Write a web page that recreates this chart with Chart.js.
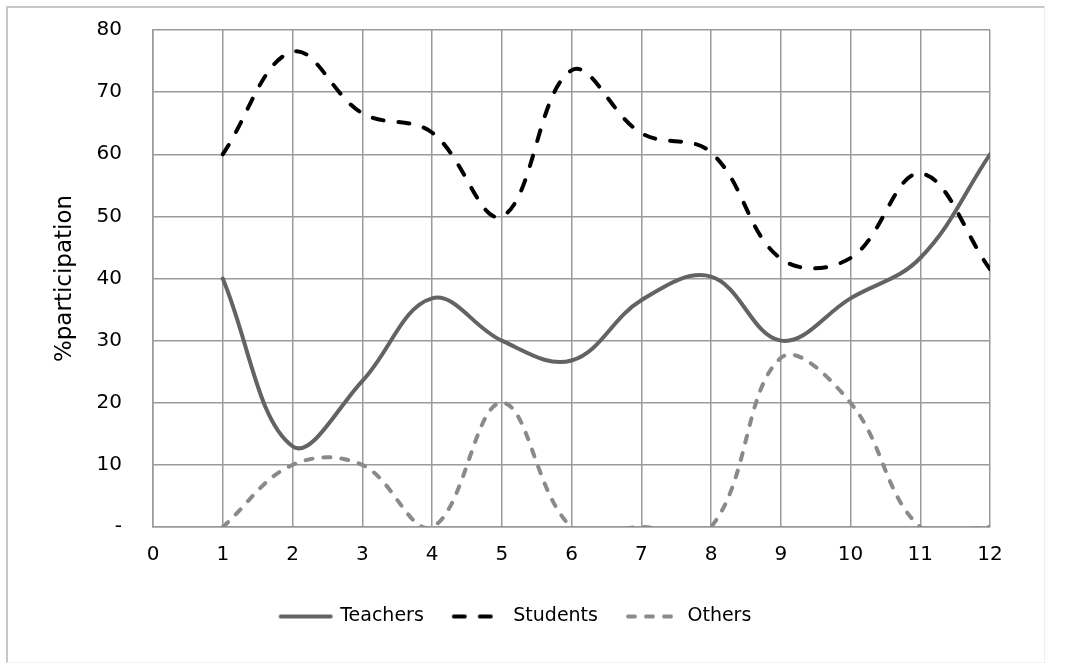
<!DOCTYPE html>
<html>
<head>
<meta charset="utf-8">
<script src="https://cdn.jsdelivr.net/npm/chart.js@4/dist/chart.umd.min.js"></script>
<style>
    html, body { margin: 0; padding: 0; background: #fff; }
    #wrap { position: relative; width: 1071px; height: 664px; }
    #marco {
        position: absolute; left: 6px; top: 6px; width: 1036px; height: 654px;
        border-left: 2px solid #c8c8c8; border-top: 2px solid #c8c8c8;
        border-right: 1px solid #eeeeee; border-bottom: 1px solid #f2f2f2;
    }
    canvas { position: absolute; left: 0; top: 0; }
</style>
</head>
<body>
<div id="wrap">
    <div id="marco"></div>
    <canvas id="grafica" width="1071" height="664"></canvas>
</div>
<script>
// Datos
const puntosX = [1, 2, 3, 4, 5, 6, 7, 8, 9, 10, 11, 12];
const teachers = [40, 13, 23.5, 36.8, 30, 26.8, 36.5, 40.3, 30, 36.8, 43.3, 60];
const students = [60, 76.5, 66.6, 63.5, 50, 73.5, 63.4, 60.3, 43.2, 43.3, 56.9, 41.5];
const others = [0, 10, 10, 0, 20, 0, 0, 0, 27.2, 20, 0, 0];
const etiquetasY = ["-", "10", "20", "30", "40", "50", "60", "70", "80"];
const nombres = ["Teachers", "Students", "Others"];

const FUENTE = "'DejaVu Sans', Verdana, sans-serif";

function aPuntos(valores) {
    return puntosX.map((x, i) => ({ x: x, y: valores[i] }));
}

/**
 * Dibuja la muestra de línea de la leyenda en un canvas pequeño
 */
function muestraLeyenda(color, guiones) {
    const c = document.createElement("canvas");
    c.width = 56;
    c.height = 8;
    const g = c.getContext("2d");
    g.strokeStyle = color;
    g.lineWidth = 4;
    g.lineCap = "round";
    g.setLineDash(guiones);
    g.beginPath();
    g.moveTo(3, 4);
    g.lineTo(53, 4);
    g.stroke();
    return c;
}

const estilos = [
    { color: "#636363", guiones: [] },
    { color: "#000000", guiones: [11, 15] },
    { color: "#8a8a8a", guiones: [7, 11] },
];
const series = [teachers, students, others];

const ctx = document.getElementById("grafica").getContext("2d");

new Chart(ctx, {
    type: "line",
    data: {
        datasets: series.map((valores, i) => ({
            label: nombres[i],
            data: aPuntos(valores),
            borderColor: estilos[i].color,
            backgroundColor: estilos[i].color,
            borderWidth: 4,
            borderDash: estilos[i].guiones,
            borderCapStyle: "round",
            tension: 0.38,
            capBezierPoints: false,
            pointRadius: 0,
            pointStyle: muestraLeyenda(estilos[i].color, estilos[i].guiones),
        })),
    },
    options: {
        responsive: false,
        animation: false,
        layout: { padding: { left: 42, right: 81, top: 30, bottom: 28 } },
        scales: {
            x: {
                type: "linear",
                min: 0,
                max: 12,
                ticks: {
                    stepSize: 1,
                    padding: 16,
                    color: "#000",
                    font: { family: FUENTE, size: 20 },
                },
                grid: { color: "#9a9a9a", lineWidth: 1.5, drawTicks: false, tickLength: 0 },
                border: { color: "#9a9a9a", width: 1.5 },
                afterFit: (escala) => {
                    escala.height = 50;
                    escala.paddingLeft = 0;
                    escala.paddingRight = 0;
                },
            },
            y: {
                min: 0,
                max: 80,
                ticks: {
                    stepSize: 10,
                    padding: 31,
                    color: "#000",
                    font: { family: FUENTE, size: 20 },
                    callback: (valor) => etiquetasY[Math.round(valor / 10)],
                },
                title: {
                    display: true,
                    text: "%participation",
                    color: "#000",
                    font: { family: FUENTE, size: 23 },
                    padding: { top: 9, bottom: 0 },
                },
                grid: { color: "#9a9a9a", lineWidth: 1.5, drawTicks: false, tickLength: 0 },
                border: { color: "#9a9a9a", width: 1.5 },
                afterFit: (escala) => {
                    escala.width = 111;
                    escala.paddingTop = 0;
                    escala.paddingBottom = 0;
                },
            },
        },
        plugins: {
            legend: {
                position: "bottom",
                labels: {
                    usePointStyle: true,
                    pointStyleWidth: 50,
                    padding: 30,
                    color: "#000",
                    font: { family: FUENTE, size: 19 },
                },
            },
            tooltip: { enabled: false },
        },
    },
});
</script>
</body>
</html>
